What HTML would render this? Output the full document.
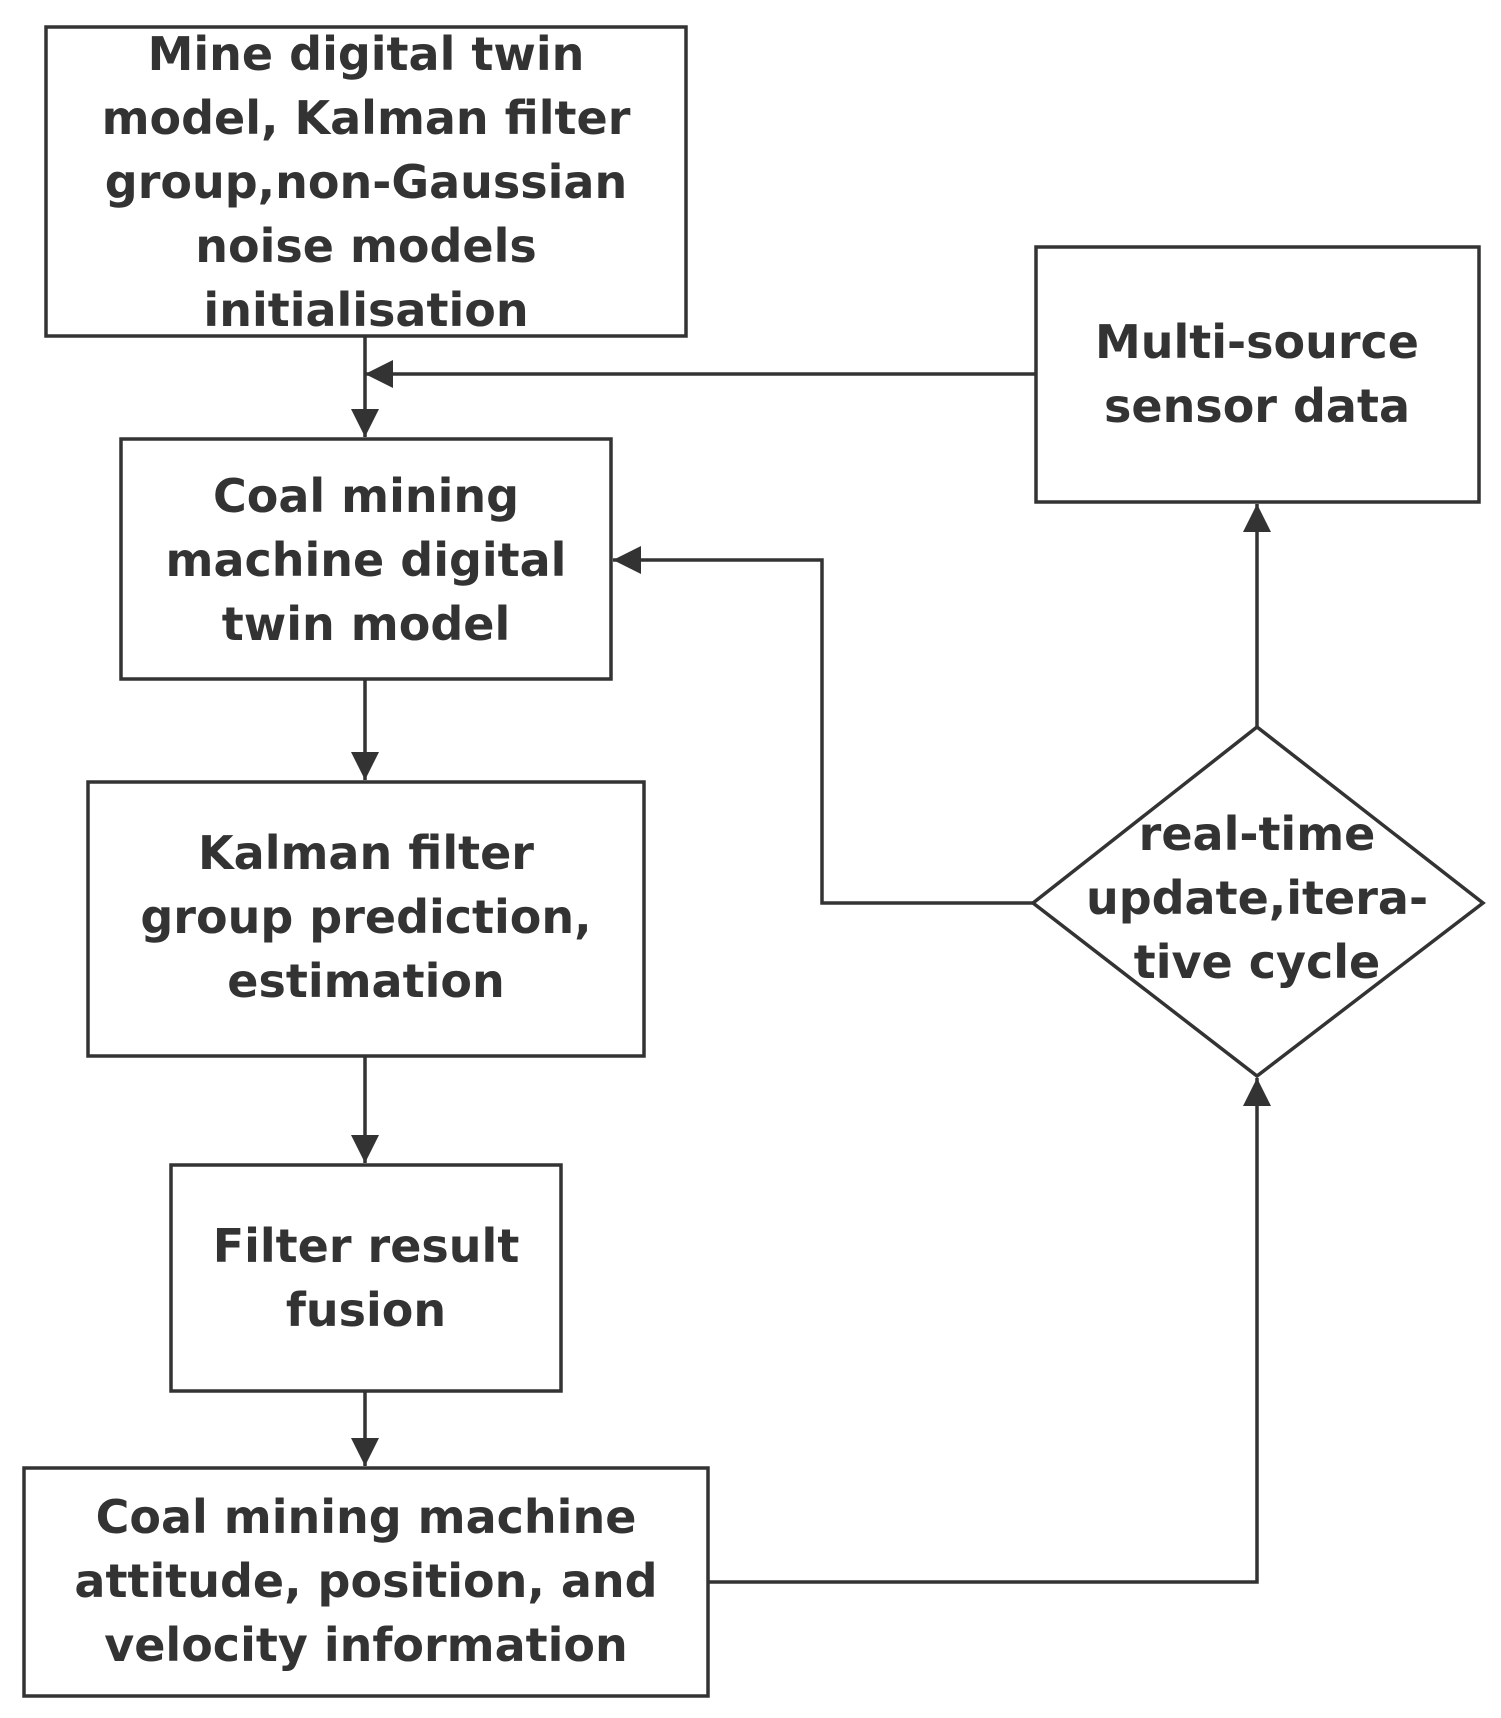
<!DOCTYPE html>
<html><head><style>
body{margin:0;background:#fff;}
svg text{font-family:"DejaVu Sans","Liberation Sans",sans-serif;font-weight:bold;font-size:46px;fill:#333;text-anchor:middle;}
</style></head><body>
<svg width="1501" height="1713" viewBox="0 0 1501 1713">
<defs>
<marker id="b" markerWidth="30" markerHeight="30" refX="28" refY="14" orient="auto" markerUnits="userSpaceOnUse"><path d="M0,0 L28,14 L0,28 z" fill="#333"/></marker></defs>
<g fill="none" stroke="#333" stroke-width="3.5">
<rect x="46" y="27" width="640" height="309"/>
<rect x="1036" y="247" width="443" height="255"/>
<rect x="121" y="439" width="490" height="240"/>
<rect x="88" y="782" width="556" height="274"/>
<rect x="171" y="1165" width="390" height="226"/>
<rect x="24" y="1468" width="684" height="228"/>
<path d="M1033,903 L1257,727 L1483,903 L1257,1076 Z"/>
<path d="M365,336 V437" marker-end="url(#b)"/>
<path d="M1036,374 H365" marker-end="url(#b)"/>
<path d="M365,679 V780" marker-end="url(#b)"/>
<path d="M365,1056 V1163" marker-end="url(#b)"/>
<path d="M365,1391 V1466" marker-end="url(#b)"/>
<path d="M1033,903 H822 V560 H613" marker-end="url(#b)"/>
<path d="M708,1582 H1257 V1078" marker-end="url(#b)"/>
<path d="M1257,727 V504" marker-end="url(#b)"/>
</g>
<text x="366" y="70">Mine digital twin</text>
<text x="366" y="134">model, Kalman filter</text>
<text x="366" y="198">group,non-Gaussian</text>
<text x="366" y="262">noise models</text>
<text x="366" y="326">initialisation</text>
<text x="1257" y="358">Multi-source</text>
<text x="1257" y="422">sensor data</text>
<text x="366" y="512">Coal mining</text>
<text x="366" y="576">machine digital</text>
<text x="366" y="640">twin model</text>
<text x="366" y="869">Kalman filter</text>
<text x="366" y="933">group prediction,</text>
<text x="366" y="997">estimation</text>
<text x="366" y="1262">Filter result</text>
<text x="366" y="1326">fusion</text>
<text x="366" y="1533">Coal mining machine</text>
<text x="366" y="1597">attitude, position, and</text>
<text x="366" y="1661">velocity information</text>
<text x="1257" y="850">real-time</text>
<text x="1257" y="914">update,itera-</text>
<text x="1257" y="978">tive cycle</text>
</svg>
</body></html>
